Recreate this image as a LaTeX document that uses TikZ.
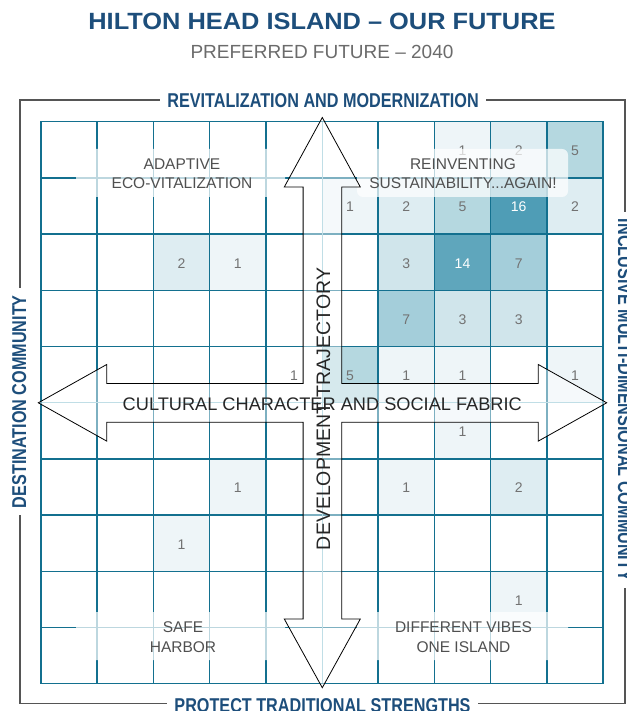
\documentclass[tikz,border=0pt]{standalone}
\usepackage{fontspec}
\setmainfont{Liberation Sans}
\newfontfamily\condfont{Liberation Sans}[FakeStretch=0.81]
\newfontfamily\titlefont{Liberation Sans}[FakeStretch=1.08]
\definecolor{gridc}{HTML}{13708F}
\definecolor{centc}{HTML}{8EC3D3}
\definecolor{navy}{HTML}{1D4E7B}
\definecolor{subgray}{HTML}{6B6B6B}
\definecolor{numgray}{HTML}{727272}
\definecolor{boxtext}{HTML}{505050}
\definecolor{framec}{HTML}{555555}
\definecolor{v0}{HTML}{FFFFFF}
\definecolor{v1}{HTML}{EEF5F8}
\definecolor{v2}{HTML}{DEEDF2}
\definecolor{v3}{HTML}{D0E5EB}
\definecolor{v5}{HTML}{B5D8E0}
\definecolor{v7}{HTML}{A4CEDA}
\definecolor{v14}{HTML}{5FA6BC}
\definecolor{v16}{HTML}{4F9DB6}
\tikzset{
 gridline/.style={draw=gridc, line width=1.5pt},
 centerline/.style={draw=centc, line width=1pt},
 numlabel/.style={font=\fontsize{14}{16}\selectfont, inner sep=0pt},
 veil/.style={fill=white, fill opacity=0.72, rounded corners=6pt},
 quadtext/.style={font=\fontsize{15.5}{18}\selectfont, text=boxtext, anchor=base, inner sep=0pt},
 axistext/.style={text=black!85, anchor=base, inner sep=0pt},
 sidelabel/.style={font=\condfont\bfseries\fontsize{20}{24}\selectfont, text=navy, fill=white, anchor=base, inner xsep=7pt, inner ysep=1pt},
 crossarrow/.style={draw=black, line width=0.8pt, fill=white, fill opacity=0.45, line join=miter},
 framebox/.style={draw=framec, line width=1.2pt},
}
\begin{document}
\begin{tikzpicture}[x=1pt,y=-1pt]
\useasboundingbox (0,0) rectangle (626,711);
\fill[white] (0,0) rectangle (626,711);

% outer frame
\draw[framebox] (20,100) rectangle (625,703.5);

% cells (colour key, value, text colour)
\foreach \c/\r/\k/\v/\t in {7/0/1/1/numgray, 8/0/2/2/numgray, 9/0/5/5/numgray,
  5/1/1/1/numgray, 6/1/2/2/numgray, 7/1/5/5/numgray, 8/1/16/16/white, 9/1/2/2/numgray,
  2/2/2/2/numgray, 3/2/1/1/numgray, 6/2/3/3/numgray, 7/2/14/14/white, 8/2/7/7/numgray,
  6/3/7/7/numgray, 7/3/3/3/numgray, 8/3/3/3/numgray,
  4/4/0/1/numgray, 5/4/5/5/numgray, 6/4/1/1/numgray, 7/4/1/1/numgray, 9/4/1/1/numgray,
  7/5/1/1/numgray,
  3/6/1/1/numgray, 6/6/1/1/numgray, 8/6/2/2/numgray,
  2/7/1/1/numgray,
  8/8/1/1/numgray} {
  \fill[v\k] ({41+\c*56.2},{121.7+\r*56.2}) rectangle ++(56.2,56.2);
  \node[numlabel, text=\t] (n\c-\r) at ({41+(\c+0.5)*56.2},{121.7+(\r+0.5)*56.2+1}) {\v};
}

% grid lines
\foreach \i in {1,2,3,4,6,7,8,9} {
  \draw[gridline] ({41+\i*56.2},121.7) -- ({41+\i*56.2},683.7);
  \draw[gridline] (41,{121.7+\i*56.2}) -- (603,{121.7+\i*56.2});
}
\draw[centerline] (322,121.7) -- (322,683.7);
\draw[centerline] (41,402.7) -- (603,402.7);
\draw[gridline] (41,121.7) rectangle (603,683.7);

% translucent label panels
\fill[veil] (76,149) rectangle (285,197);
\fill[veil] (357,149) rectangle (568,197);
\fill[veil] (76,612) rectangle (285,660);
\fill[veil] (357,612) rectangle (568,660);

% four-headed cross arrow
\draw[crossarrow] (322.3,117.5) -- (360.3,187) -- (341.7,187) -- (341.7,383.4)
  -- (538.3,383.4) -- (538.3,364.5) -- (606.7,402.8) -- (538.3,441.1)
  -- (538.3,422.2) -- (341.7,422.2) -- (341.7,619) -- (360.3,619)
  -- (322.3,687.7) -- (284.3,619) -- (303.1,619) -- (303.1,422.2)
  -- (106.7,422.2) -- (106.7,441.1) -- (38.3,402.8) -- (106.7,364.5)
  -- (106.7,383.4) -- (303.1,383.4) -- (303.1,187) -- (284.3,187) -- cycle;

% axis texts
\node[axistext, font=\fontsize{18.2}{22}\selectfont] (cult) at (322.3,410) {CULTURAL CHARACTER AND SOCIAL FABRIC};
\node[axistext, font=\fontsize{19.5}{22}\selectfont, rotate=90] (devt) at (330,409) {DEVELOPMENT TRAJECTORY};

% quadrant texts
\node[quadtext] (q1a) at (182,170) {ADAPTIVE};
\node[quadtext] (q1b) at (182,189) {ECO-VITALIZATION};
\node[quadtext] (q2a) at (463,170) {REINVENTING};
\node[quadtext] (q2b) at (463,189) {SUSTAINABILITY...AGAIN!};
\node[quadtext] (q3a) at (183,632.7) {SAFE};
\node[quadtext] (q3b) at (183,652.3) {HARBOR};
\node[quadtext] (q4a) at (463.5,632.7) {DIFFERENT VIBES};
\node[quadtext] (q4b) at (463.5,652.3) {ONE ISLAND};

% frame labels
\node[sidelabel] (top) at (323,107.5) {REVITALIZATION AND MODERNIZATION};
\node[sidelabel] (bottom) at (322.5,712.5) {PROTECT TRADITIONAL STRENGTHS};
\node[sidelabel, rotate=90] (left) at (26,401.7) {DESTINATION COMMUNITY};
\node[sidelabel, rotate=-90] (right) at (618,400) {INCLUSIVE MULTI-DIMENSIONAL COMMUNITY};

% titles
\node[anchor=base, inner sep=0pt, text=navy, font=\titlefont\bfseries\fontsize{23.5}{28}\selectfont] (title) at (322,30) {HILTON HEAD ISLAND – OUR FUTURE};
\node[anchor=base, inner sep=0pt, text=subgray, font=\fontsize{19}{22}\selectfont] (subtitle) at (322,58.3) {PREFERRED FUTURE – 2040};
\end{tikzpicture}
\end{document}
